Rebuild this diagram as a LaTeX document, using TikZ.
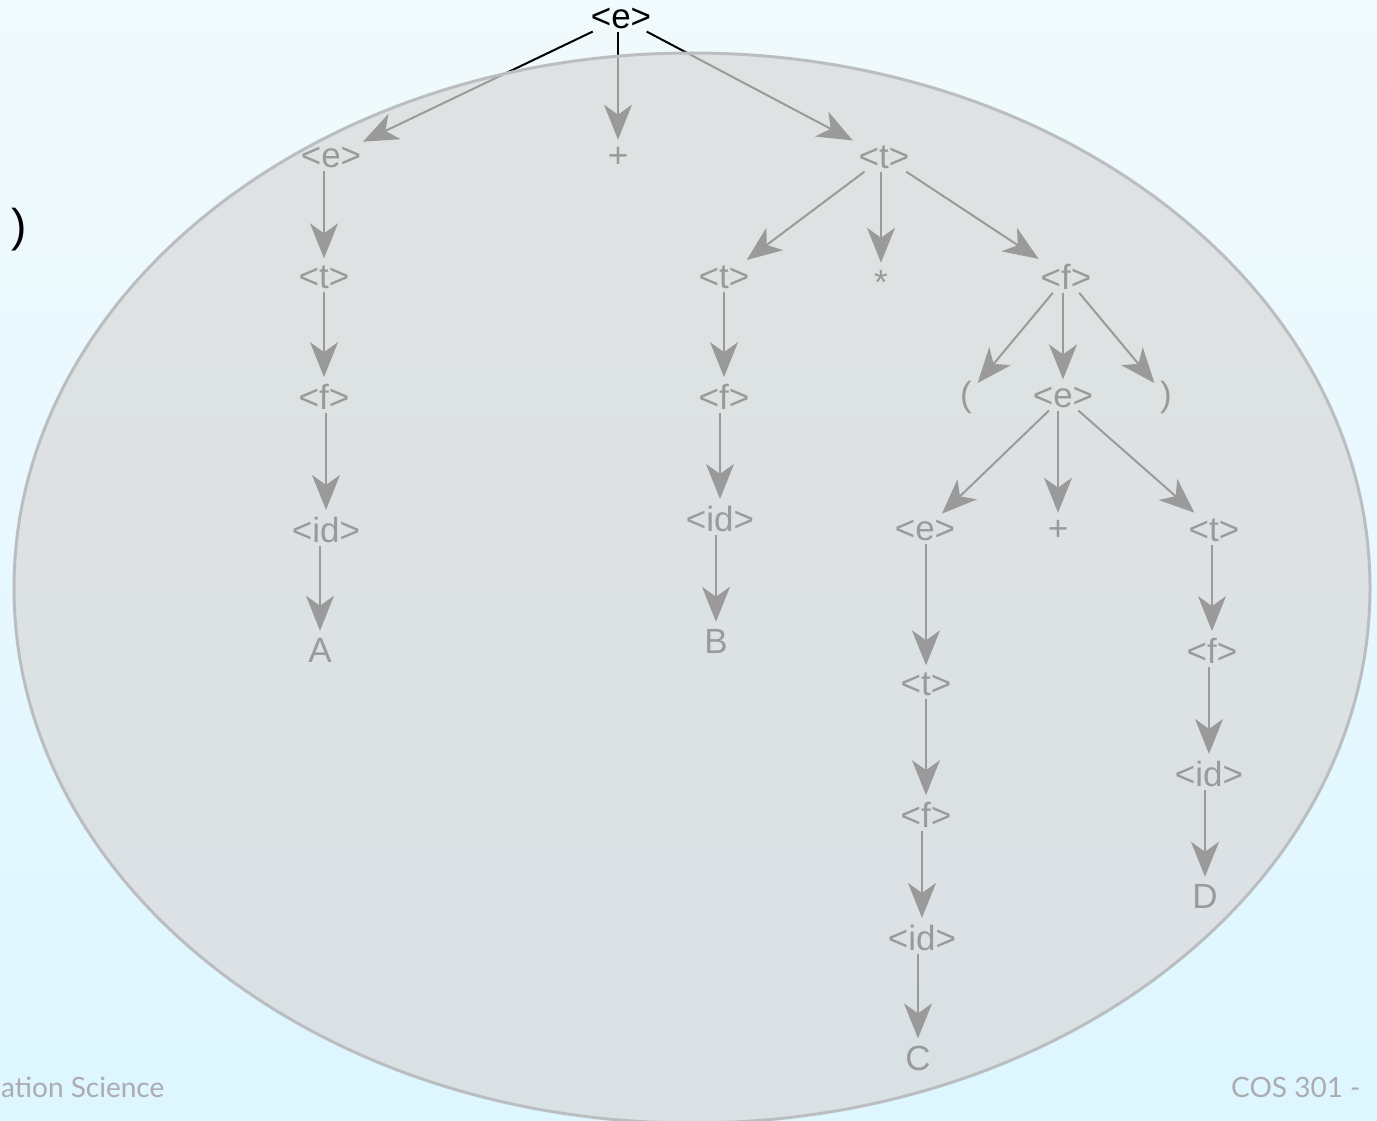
\documentclass[tikz,border=0pt]{standalone}
\usepackage{fontspec}
\setmainfont{Liberation Sans}
\newfontfamily\footfont{Lato}
\usetikzlibrary{arrows.meta}
\definecolor{bgtop}{RGB}{241,250,253}
\definecolor{bgbot}{RGB}{221,246,255}
\definecolor{ellfill}{RGB}{217,217,217}
\definecolor{ellline}{RGB}{187,190,192}
\definecolor{foot}{RGB}{172,172,176}
\begin{document}
\begin{tikzpicture}[x=1pt,y=-1pt,
  sym/.style={font=\fontsize{35}{35}\selectfont, inner sep=3pt, text=black},
  edge/.style={draw=black, line width=2pt, shorten >=4pt, -{Stealth[length=35pt,width=28pt,inset=10pt]}},
  foottext/.style={font=\footfont\fontsize{28}{28}\selectfont, text=foot, anchor=west, inner sep=0pt}]
\useasboundingbox (0,0) rectangle (1377,1121);
\clip (0,0) rectangle (1377,1121);
\shade[top color=bgtop,bottom color=bgbot] (0,0) rectangle (1377,1121);
% slide fragments
\node[foottext] (f1) at (1,1087) {ation Science};
\node[foottext] (f2) at (1231,1087) {COS 301 -};
\node[font=\fontsize{46}{46}\selectfont, inner sep=0pt] (par) at (19,230) {)};
% tree nodes
\node[sym] (r) at (621,18) {<e>};
\node[sym] (e1) at (331,157) {<e>};
\node[sym] (p1) at (618,157) {+};
\node[sym] (t1) at (884,157) {<t>};
% left chain
\node[sym] (lt) at (324,277) {<t>};
\node[sym] (lf) at (324,397) {<f>};
\node[sym] (lid) at (326,530) {<id>};
\node[sym] (A) at (320,650) {A};
% t1 children
\node[sym] (mt) at (724,277) {<t>};
\node[sym] (star) at (881,282) {*};
\node[sym] (f2n) at (1066,277) {<f>};
% middle chain
\node[sym] (mf) at (724,397) {<f>};
\node[sym] (mid) at (720,519) {<id>};
\node[sym] (B) at (716,641) {B};
% f2 children
\node[sym] (lp) at (966,397) {(};
\node[sym] (e2) at (1063,397) {<e>};
\node[sym] (rp) at (1166,397) {)};
% e2 children
\node[sym] (e3) at (925,530) {<e>};
\node[sym] (p2) at (1058,530) {+};
\node[sym] (t3) at (1214,530) {<t>};
% e3 chain
\node[sym] (ct) at (926,684) {<t>};
\node[sym] (cf) at (926,815) {<f>};
\node[sym] (cid) at (922,938) {<id>};
\node[sym] (C) at (918,1058) {C};
% t3 chain
\node[sym] (df) at (1212,651) {<f>};
\node[sym] (did) at (1209,774) {<id>};
\node[sym] (D) at (1205,896) {D};
% edges
\draw[edge] (r) -- (e1);
\draw[edge] (r.south -| p1) -- (p1);
\draw[edge] (r) -- (t1);
\draw[edge] (e1.south -| lt) -- (lt);
\draw[edge] (lt.south -| lf) -- (lf);
\draw[edge] (lf.south -| lid) -- (lid);
\draw[edge] (lid.south -| A) -- (A);
\draw[edge] (t1) -- (mt);
\draw[edge] (t1.south -| star) -- (star);
\draw[edge] (t1) -- (f2n);
\draw[edge] (mt.south -| mf) -- (mf);
\draw[edge] (mf.south -| mid) -- (mid);
\draw[edge] (mid.south -| B) -- (B);
\draw[edge] (f2n) -- (lp);
\draw[edge] (f2n.south -| e2) -- (e2);
\draw[edge] (f2n) -- (rp);
\draw[edge] (e2) -- (e3);
\draw[edge] (e2.south -| p2) -- (p2);
\draw[edge] (e2) -- (t3);
\draw[edge] (e3.south -| ct) -- (ct);
\draw[edge] (ct.south -| cf) -- (cf);
\draw[edge] (cf.south -| cid) -- (cid);
\draw[edge] (cid.south -| C) -- (C);
\draw[edge] (t3.south -| df) -- (df);
\draw[edge] (df.south -| did) -- (did);
\draw[edge] (did.south -| D) -- (D);
% translucent ellipse overlay
\fill[ellfill, fill opacity=0.71] (692,588) ellipse [x radius=678, y radius=535];
\draw[ellline, line width=3pt] (692,588) ellipse [x radius=678, y radius=535];
\end{tikzpicture}
\end{document}
